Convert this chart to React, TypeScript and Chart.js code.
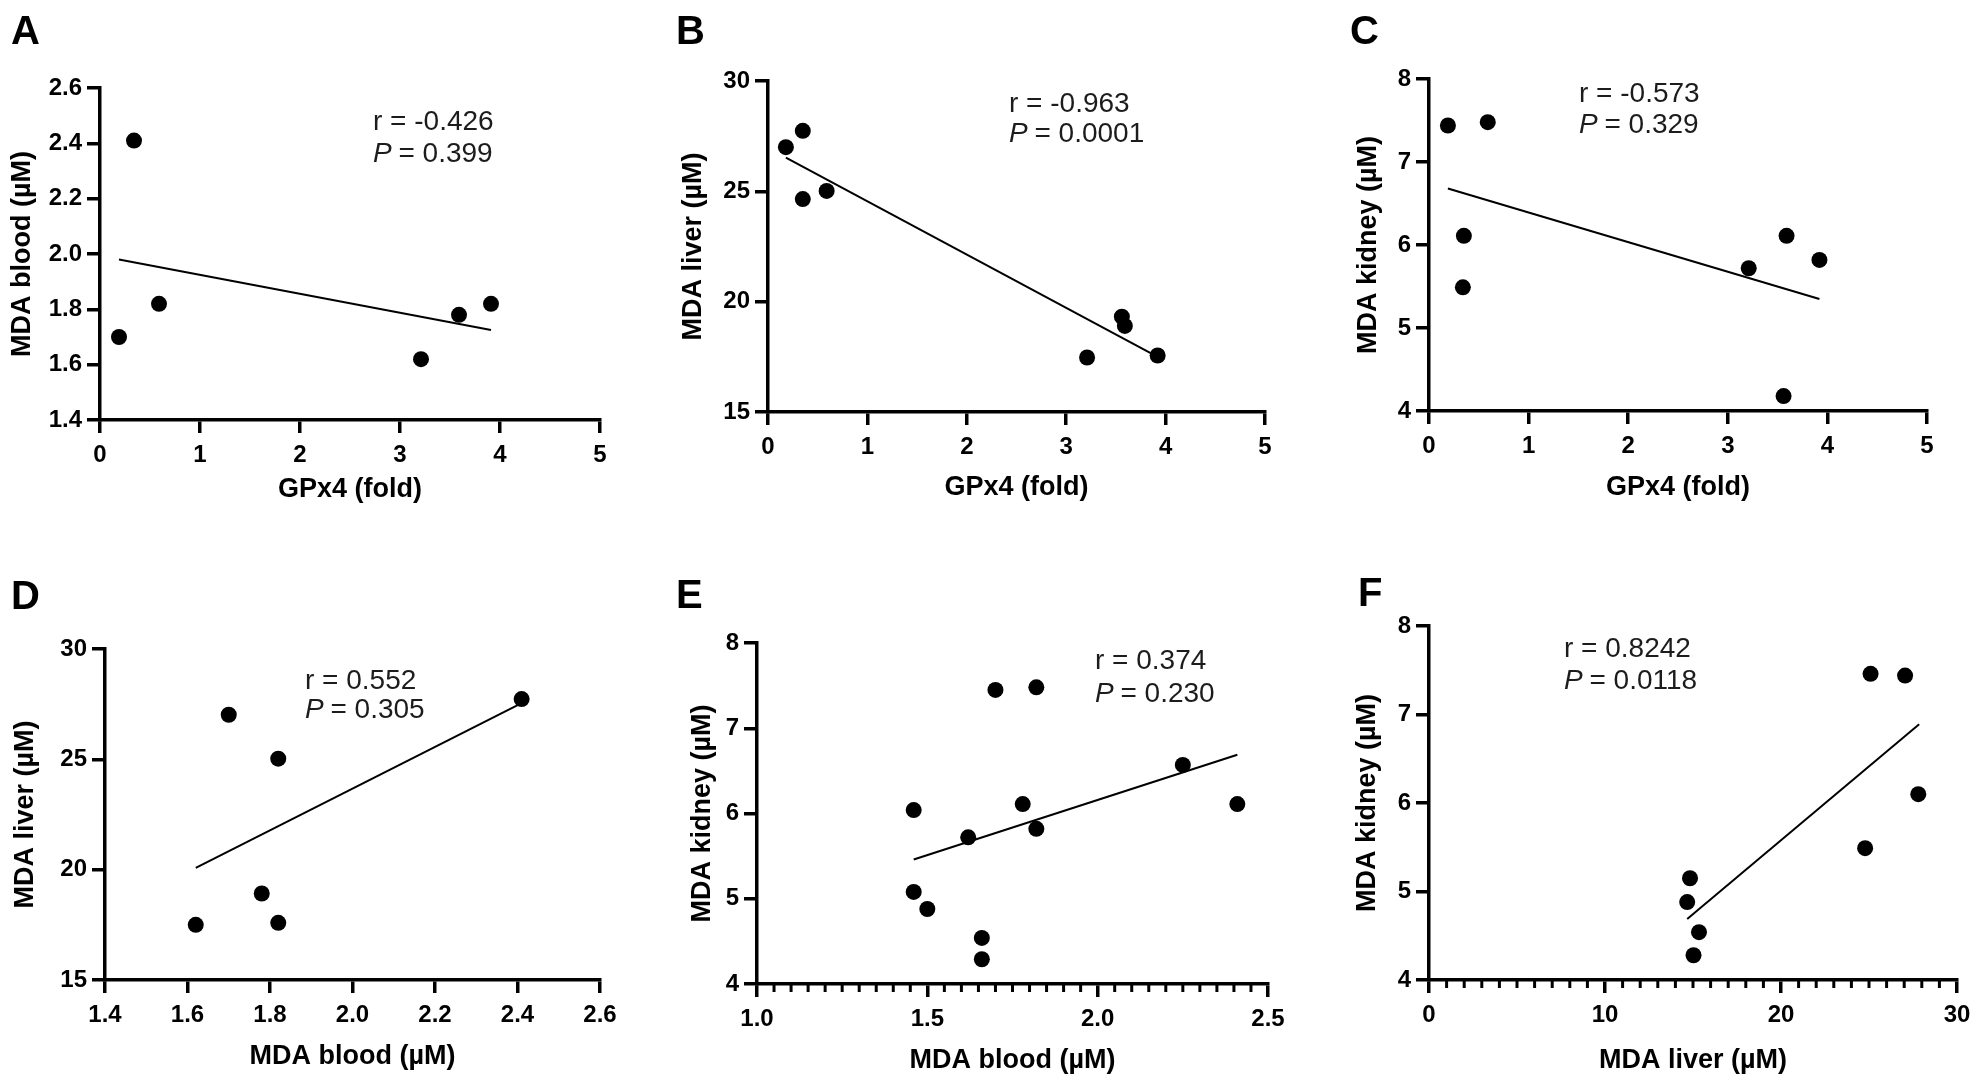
import React, { useEffect, useRef } from "react";
import { Chart, registerables } from "chart.js";

Chart.register(...registerables);

const FONT = "Arial, 'Liberation Sans', Helvetica, sans-serif";
const PAGE_W = 1981;
const PAGE_H = 1087;

// ---------- data ----------
// A: GPx4 vs MDA blood
const gpx4A = [0.19, 0.34, 0.59, 3.21, 3.59, 3.91];
const bloodA = [1.70, 2.41, 1.82, 1.62, 1.78, 1.82];
const fitXA = [0.19, 3.91];
const fitYA = [1.98, 1.725];
// B: GPx4 vs MDA liver
const gpx4B = [0.18, 0.35, 0.35, 0.59, 3.21, 3.56, 3.59, 3.92];
const liverB = [27.0, 27.74, 24.65, 25.02, 17.47, 19.32, 18.9, 17.56];
const fitXB = [0.18, 3.92];
const fitYB = [26.53, 17.5];
// C: GPx4 vs MDA kidney
const gpx4C = [0.19, 0.59, 0.35, 0.34, 3.21, 3.59, 3.92, 3.56];
const kidneyC = [7.44, 7.48, 6.11, 5.49, 5.72, 6.11, 5.82, 4.18];
const fitXC = [0.19, 3.92];
const fitYC = [6.68, 5.35];
// D: MDA blood vs MDA liver
const bloodD = [1.70, 1.82, 1.78, 1.62, 1.82, 2.41];
const liverD = [27.02, 25.03, 18.92, 17.5, 17.59, 27.73];
const fitXD = [1.62, 2.41];
const fitYD = [20.08, 27.55];
// E: MDA blood vs MDA kidney
const bloodE = [1.46, 1.46, 1.50, 1.62, 1.66, 1.66, 1.70, 1.82, 1.78, 1.82, 2.25, 2.41];
const kidneyE = [6.04, 5.08, 4.88, 5.72, 4.54, 4.29, 7.45, 7.48, 6.11, 5.82, 6.57, 6.11];
const fitXE = [1.46, 2.41];
const fitYE = [5.46, 6.69];
// F: MDA liver vs MDA kidney
const liverF = [14.83, 14.67, 15.34, 15.03, 25.09, 27.05, 27.8, 24.78];
const kidneyF = [5.15, 4.88, 4.54, 4.28, 7.46, 7.44, 6.10, 5.49];
const fitXF = [14.67, 27.85];
const fitYF = [4.69, 6.89];

// axis ranges / ticks
const axisGPx4 = { min: 0, max: 5, step: 1, dec: 0 };
const axisBloodY = { min: 1.4, max: 2.6, step: 0.2, dec: 1 };
const axisLiverY = { min: 15, max: 30, step: 5, dec: 0 };
const axisKidneyY = { min: 4, max: 8, step: 1, dec: 0 };
const axisBloodXD = { min: 1.4, max: 2.6, step: 0.2, dec: 1 };
const axisBloodXE = { min: 1.0, max: 2.5, step: 0.5, dec: 1, minor: 0.05 };
const axisLiverXF = { min: 0, max: 30, step: 10, dec: 0, minor: 1 };

const statsR = ["r = -0.426", "r = -0.963", "r = -0.573", "r = 0.552", "r = 0.374", "r = 0.8242"];
const statsP = ["0.399", "0.0001", "0.329", "0.305", "0.230", "0.0118"];
const letters = ["A", "B", "C", "D", "E", "F"];
const titleGPx4 = "GPx4 (fold)";
const titleBlood = "MDA blood (\u00b5M)";
const titleLiver = "MDA liver (\u00b5M)";
const titleKidney = "MDA kidney (\u00b5M)";

type Ax = { min: number; max: number; step: number; dec: number; minor?: number };
type Layout = {
  axisX: number; rightX: number; topY: number; axisY: number;
  yTitleX: number; xTitleY: number;
  letterX: number; letterY: number;
  annX: number; annRY: number; annPY: number;
};
type Panel = {
  xs: number[]; ys: number[]; fx: number[]; fy: number[];
  xa: Ax; ya: Ax; xTitle: string; yTitle: string;
  idx: number; L: Layout;
};

const panels: Panel[] = [
  { xs: gpx4A, ys: bloodA, fx: fitXA, fy: fitYA, xa: axisGPx4, ya: axisBloodY, xTitle: titleGPx4, yTitle: titleBlood, idx: 0,
    L: { axisX: 100, rightX: 600, topY: 88, axisY: 420, yTitleX: 23, xTitleY: 490, letterX: 11, letterY: 44, annX: 373, annRY: 130, annPY: 162 } },
  { xs: gpx4B, ys: liverB, fx: fitXB, fy: fitYB, xa: axisGPx4, ya: axisLiverY, xTitle: titleGPx4, yTitle: titleLiver, idx: 1,
    L: { axisX: 768, rightX: 1265, topY: 81, axisY: 412, yTitleX: 694, xTitleY: 488, letterX: 676, letterY: 44, annX: 1009, annRY: 112, annPY: 142 } },
  { xs: gpx4C, ys: kidneyC, fx: fitXC, fy: fitYC, xa: axisGPx4, ya: axisKidneyY, xTitle: titleGPx4, yTitle: titleKidney, idx: 2,
    L: { axisX: 1429, rightX: 1927, topY: 79, axisY: 411, yTitleX: 1369, xTitleY: 488, letterX: 1350, letterY: 44, annX: 1579, annRY: 102, annPY: 133 } },
  { xs: bloodD, ys: liverD, fx: fitXD, fy: fitYD, xa: axisBloodXD, ya: axisLiverY, xTitle: titleBlood, yTitle: titleLiver, idx: 3,
    L: { axisX: 105, rightX: 600, topY: 649, axisY: 980, yTitleX: 26, xTitleY: 1057, letterX: 11, letterY: 609, annX: 305, annRY: 689, annPY: 718 } },
  { xs: bloodE, ys: kidneyE, fx: fitXE, fy: fitYE, xa: axisBloodXE, ya: axisKidneyY, xTitle: titleBlood, yTitle: titleKidney, idx: 4,
    L: { axisX: 757, rightX: 1268, topY: 643, axisY: 984, yTitleX: 703, xTitleY: 1061, letterX: 676, letterY: 608, annX: 1095, annRY: 669, annPY: 702 } },
  { xs: liverF, ys: kidneyF, fx: fitXF, fy: fitYF, xa: axisLiverXF, ya: axisKidneyY, xTitle: titleLiver, yTitle: titleKidney, idx: 5,
    L: { axisX: 1429, rightX: 1957, topY: 626, axisY: 980, yTitleX: 1368, xTitleY: 1061, letterX: 1358, letterY: 606, annX: 1564, annRY: 657, annPY: 689 } },
];

const TITLE_SIZE = 27;
const TITLE_LH = 1.2;

function makeConfig(p: Panel): any {
  const L = p.L;
  const lh = TITLE_SIZE * TITLE_LH;
  const padLeft = L.yTitleX - lh / 2;
  const yW = L.axisX - padLeft;
  const xH = L.xTitleY + lh / 2 - L.axisY;
  const padBottom = PAGE_H - L.axisY - xH;

  const tickFont = { family: FONT, size: 24, weight: "bold" as const };
  const titleFont = { family: FONT, size: TITLE_SIZE, weight: "bold" as const, lineHeight: TITLE_LH };
  const grid = {
    drawOnChartArea: false,
    drawTicks: true,
    tickLength: 13,
    tickWidth: 3.5,
    tickColor: "#000",
    color: "#000",
    lineWidth: 3.5,
  };
  const border = { display: true, color: "#000", width: 3.5 };

  const annot = {
    id: "annot" + p.idx,
    afterDraw(chart: any) {
      const ctx = chart.ctx;
      ctx.save();
      // minor ticks
      const minor = p.xa.minor;
      if (minor) {
        const xs = chart.scales.x;
        const n = Math.round((p.xa.max - p.xa.min) / minor);
        const every = Math.round(p.xa.step / minor);
        ctx.strokeStyle = "#000";
        ctx.lineWidth = 3;
        for (let k = 0; k <= n; k++) {
          if (k % every === 0) continue;
          const v = p.xa.min + k * minor;
          const px = xs.getPixelForValue(v);
          ctx.beginPath();
          ctx.moveTo(px, chart.chartArea.bottom);
          ctx.lineTo(px, chart.chartArea.bottom + 8);
          ctx.stroke();
        }
      }
      // panel letter
      ctx.fillStyle = "#000";
      ctx.textBaseline = "alphabetic";
      ctx.textAlign = "left";
      ctx.font = `bold 40px ${FONT}`;
      ctx.fillText(letters[p.idx], L.letterX, L.letterY);
      // stats
      ctx.fillStyle = "#1c1c1c";
      ctx.font = `28px ${FONT}`;
      ctx.fillText(statsR[p.idx], L.annX, L.annRY);
      ctx.font = `italic 28px ${FONT}`;
      ctx.fillText("P", L.annX, L.annPY);
      const pw = ctx.measureText("P").width;
      ctx.font = `28px ${FONT}`;
      ctx.fillText(" = " + statsP[p.idx], L.annX + pw - 1, L.annPY);
      ctx.restore();
    },
  };

  return {
    type: "scatter",
    data: {
      datasets: [
        {
          data: p.xs.map((x, i) => ({ x, y: p.ys[i] })),
          backgroundColor: "#000",
          borderColor: "#000",
          borderWidth: 0,
          pointRadius: 8,
          pointHoverRadius: 8,
          clip: false,
        },
        {
          data: p.fx.map((x, i) => ({ x, y: p.fy[i] })),
          showLine: true,
          borderColor: "#000",
          borderWidth: 2,
          pointRadius: 0,
          fill: false,
          clip: false,
        },
      ],
    },
    options: {
      responsive: false,
      maintainAspectRatio: false,
      animation: false,
      events: [],
      layout: {
        padding: { left: padLeft, right: PAGE_W - L.rightX, top: L.topY, bottom: padBottom },
      },
      plugins: { legend: { display: false }, tooltip: { enabled: false } },
      scales: {
        x: {
          type: "linear",
          position: "bottom",
          min: p.xa.min,
          max: p.xa.max,
          afterFit: (s: any) => { s.height = xH; },
          ticks: {
            stepSize: p.xa.step,
            autoSkip: false,
            maxRotation: 0,
            padding: 8,
            color: "#000",
            font: tickFont,
            callback: (v: any) => Number(v).toFixed(p.xa.dec),
          },
          grid,
          border,
          title: { display: true, text: p.xTitle, font: titleFont, color: "#000", padding: 0 },
        },
        y: {
          type: "linear",
          position: "left",
          min: p.ya.min,
          max: p.ya.max,
          afterFit: (s: any) => { s.width = yW; },
          ticks: {
            stepSize: p.ya.step,
            autoSkip: false,
            padding: 5,
            color: "#000",
            font: tickFont,
            callback: (v: any) => Number(v).toFixed(p.ya.dec),
          },
          grid,
          border,
          title: { display: true, text: p.yTitle, font: titleFont, color: "#000", padding: 0 },
        },
      },
    },
    plugins: [annot],
  };
}

function PanelCanvas({ p }: { p: Panel }) {
  const ref = useRef<HTMLCanvasElement | null>(null);
  useEffect(() => {
    if (!ref.current) return;
    const chart = new Chart(ref.current, makeConfig(p));
    return () => chart.destroy();
  }, [p]);
  return (
    <canvas
      ref={ref}
      width={PAGE_W}
      height={PAGE_H}
      style={{ position: "absolute", left: 0, top: 0, width: PAGE_W, height: PAGE_H }}
    />
  );
}

export default function App() {
  return (
    <div style={{ position: "absolute", left: 0, top: 0, width: PAGE_W, height: PAGE_H, background: "#fff", overflow: "hidden" }}>
      {panels.map((p) => (
        <PanelCanvas key={p.idx} p={p} />
      ))}
    </div>
  );
}
